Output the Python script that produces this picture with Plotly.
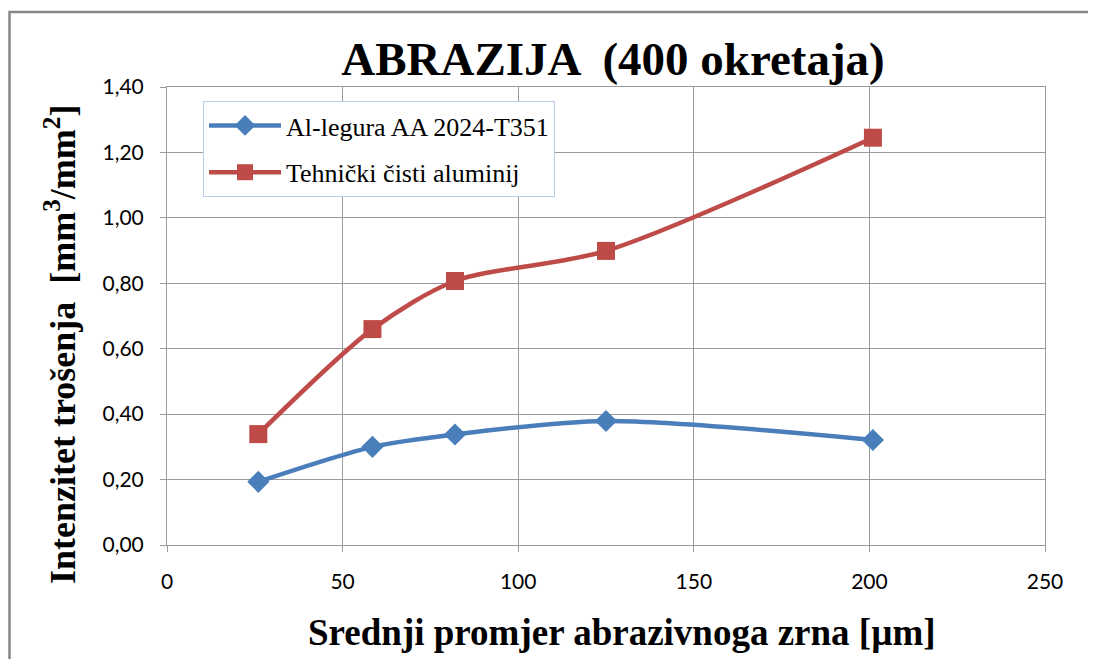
import plotly.graph_objects as go

x_vals = [26, 58.5, 82, 125, 201]
al_legura = [0.193, 0.30, 0.338, 0.379, 0.321]
tehnicki = [0.339, 0.66, 0.807, 0.899, 1.245]
y_ticks = [0.0, 0.2, 0.4, 0.6, 0.8, 1.0, 1.2, 1.4]
y_labels = ["0,00", "0,20", "0,40", "0,60", "0,80", "1,00", "1,20", "1,40"]
x_ticks = [0, 50, 100, 150, 200, 250]

BLUE = "#4a7ebb"
RED = "#be4b48"
GRID = "#9a9a9a"

fig = go.Figure()
fig.add_trace(go.Scatter(x=x_vals, y=al_legura, name="Al-legura AA 2024-T351", legendgroup="a",
                         mode="lines+markers", line=dict(color=BLUE, width=4.5, shape="spline", smoothing=0.8),
                         marker=dict(symbol="diamond", size=17, color=BLUE)))
fig.add_trace(go.Scatter(x=x_vals, y=tehnicki, name="Tehnički čisti aluminij", legendgroup="b",
                         mode="lines+markers", line=dict(color=RED, width=4.5, shape="spline", smoothing=0.8),
                         marker=dict(symbol="square", size=18, color=RED)))

OFF = 8  # page body offset
L, R, T, B = 167, 1045, 87, 545
W, H = 1096, 659
FW, FH = W - OFF, H - OFF
pw, ph = R - L, B - T


def px_x(p):
    return (p - L) / pw


def px_y(p):
    return (B - p) / ph


fig.update_layout(
    width=FW, height=FH,
    margin=dict(l=L - OFF, r=W - R, t=T - OFF, b=H - B),
    paper_bgcolor="white", plot_bgcolor="white",
    title=dict(text="<b>ABRAZIJA  (400 okretaja)</b>", x=(613 - OFF) / FW, xanchor="center",
               y=1 - (59 - OFF) / FH, yanchor="middle",
               font=dict(family="Liberation Serif", size=47, color="black")),
    xaxis=dict(range=[0, 250], tickvals=x_ticks, showgrid=True, gridcolor=GRID, gridwidth=1,
               showline=True, linecolor=GRID, linewidth=1, mirror=True,
               ticks="outside", ticklen=6, tickcolor=GRID, zeroline=False, ticklabelstandoff=12,
               tickfont=dict(family="Lato", size=21, color="black")),
    yaxis=dict(range=[0, 1.4], tickvals=y_ticks, ticktext=y_labels, showgrid=True, gridcolor=GRID,
               gridwidth=1, showline=True, linecolor=GRID, linewidth=1, mirror=True,
               ticks="outside", ticklen=6, tickcolor=GRID, zeroline=False, ticklabelstandoff=12,
               tickfont=dict(family="Lato", size=21, color="black")),
    legend=dict(x=px_x(203), y=px_y(101), xanchor="left", yanchor="top",
                bgcolor="white", bordercolor="#b9cde5", borderwidth=1,
                font=dict(family="Liberation Serif", size=26, color="black"),
                tracegroupgap=10, itemwidth=72),
    showlegend=True,
    annotations=[
        dict(text="<b>Srednji promjer abrazivnoga zrna [µm]</b>", xref="paper", yref="paper",
             x=px_x(622), y=px_y(632), xanchor="center", yanchor="middle", showarrow=False,
             font=dict(family="Liberation Serif", size=37, color="black")),
        dict(text="<b>Intenzitet trošenja  [mm<sup>3</sup>/mm<sup>2</sup>]</b>", xref="paper", yref="paper",
             x=px_x(60), y=px_y(345), xanchor="center", yanchor="middle", showarrow=False, textangle=-90,
             font=dict(family="Liberation Serif", size=36, color="black")),
    ],
)

fig.add_shape(type="rect", xref="paper", yref="paper",
              x0=px_x(9.5), x1=px_x(1110), y0=px_y(680), y1=px_y(12),
              line=dict(color="#868686", width=2.5), fillcolor="rgba(0,0,0,0)", layer="below")

fig.write_html("out.html")
